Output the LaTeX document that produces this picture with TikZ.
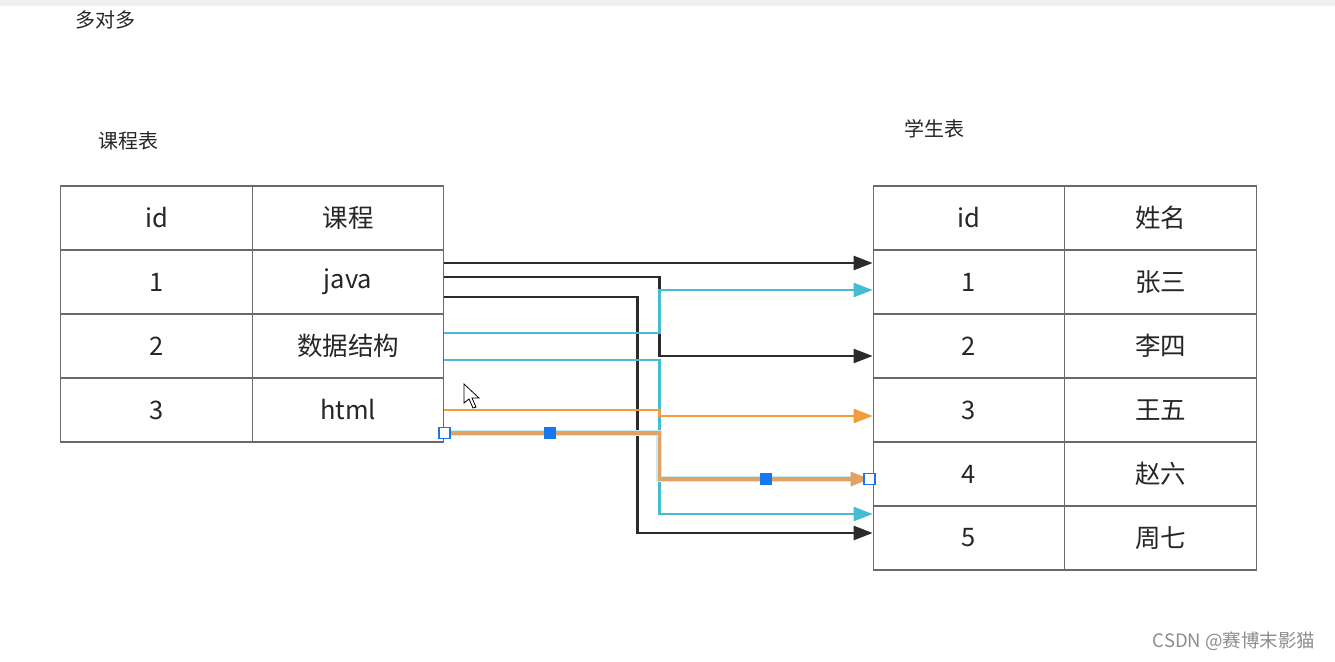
\documentclass[tikz,border=0pt]{standalone}
\usepackage{fontspec}
\setmainfont{Noto Sans CJK SC}
\usetikzlibrary{arrows.meta,positioning}
\definecolor{framegray}{HTML}{6A6A6A}
\definecolor{linkblack}{HTML}{2B2B2B}
\definecolor{linkcyan}{HTML}{45BCD2}
\definecolor{linkorange}{HTML}{F39C3A}
\definecolor{selorange}{HTML}{E2A264}
\definecolor{handleblue}{HTML}{1677F0}

\begin{document}
\begin{tikzpicture}[x=1pt,y=-1pt,
    cell/.style={draw=framegray,line width=1.2pt,minimum width=191.5pt,minimum height=64pt,inner sep=0pt,font=\fontsize{25.5}{29}\selectfont,text=black!85},
    title/.style={font=\fontsize{20}{23}\selectfont,text=black!85},
    link/.style={line width=2.4pt,-{Triangle[length=19pt,width=14pt]}},
    handle/.style={draw=handleblue,line width=1.4pt,minimum size=11pt,inner sep=0pt}]
    \useasboundingbox (0,0) rectangle (1335,661);
    % Draw window edge
    \fill[black!6] (0,0) rectangle (1335,6);
    % Draw titles
    \node[title] (manytitle) at (105,20) {多对多};
    \node[title] (coursetitle) at (128,141) {课程表};
    \node[title] (studenttitle) at (934,129) {学生表};
    % Draw course table
    \foreach \i/\n/\c in {0/id/课程,1/1/java,2/2/数据结构,3/3/html} {
        \node[cell] (kid\i) at (156.5,218+64*\i) {\n};
        \node[cell] (kc\i) at (348,218+64*\i) {\c};
    }
    % Draw student table
    \foreach \i/\n in {0/姓名,1/张三,2/李四,3/王五,4/赵六,5/周七} {
        \node[cell] (sid\i) at (969,218+64*\i) {\ifnum\i=0 id\else\i\fi};
        \node[cell] (sname\i) at (1160.5,218+64*\i) {\n};
    }
    % Draw links from java
    \draw[link,linkblack] ([yshift=19pt]kc1.east) -- ([yshift=19pt]sid1.west);
    \draw[link,linkblack] ([yshift=5pt]kc1.east) -- ++(215,0) |- ([yshift=-10pt]sid2.west);
    \draw[link,linkblack] ([yshift=-15pt]kc1.east) -- ++(193,0) |- ([yshift=5pt]sid5.west);
    % Draw links from data structures
    \draw[link,linkcyan] ([yshift=13pt]kc2.east) -- ++(215,0) |- ([yshift=-8pt]sid1.west);
    \draw[link,linkcyan] ([yshift=-14pt]kc2.east) -- ++(215,0) |- ([yshift=24pt]sid5.west);
    % Draw links from html
    \draw[link,linkorange] (kc3.east) -- ++(215,0) |- ([yshift=-6pt]sid3.west);
    \draw[line width=6pt,linkcyan!30] ([yshift=-23pt]kc3.east) -- ++(215,0) |- ([xshift=-3pt,yshift=-5pt]sid4.west);
    \draw[link,selorange,line width=3.2pt] ([yshift=-23pt]kc3.east) -- ++(215,0) |- ([xshift=-3pt,yshift=-5pt]sid4.west);
    % Draw selection handles
    \node[handle,fill=white] (h1) at ([yshift=-23pt]kc3.east) {};
    \node[handle,fill=handleblue] (h2) at (550,433) {};
    \node[handle,fill=handleblue] (h3) at (766,479) {};
    \node[handle,fill=white] (h4) at ([xshift=-3pt,yshift=-5pt]sid4.west) {};
    % Draw mouse pointer
    \draw[black,line width=0.8pt,fill=white] (464,384) -- (464,403) -- (469,399) -- (473,408) -- (476,407) -- (472,398) -- (479,398) -- cycle;
    % Draw watermark
    \node[font=\fontsize{18.5}{21}\selectfont,text=black!45] (mark) at (1234,641) {CSDN @赛博末影猫};
\end{tikzpicture}
\end{document}
